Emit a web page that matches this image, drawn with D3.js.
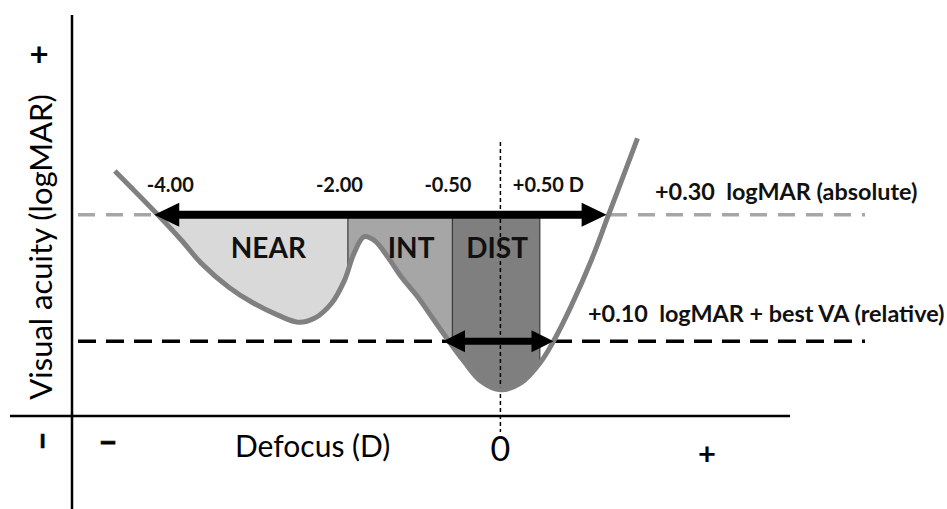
<!DOCTYPE html>
<html>
<head>
<meta charset="utf-8">
<script src="https://cdn.jsdelivr.net/npm/d3@7"></script>
<style>
	body { margin: 0; background: #fff; }
	svg { display: block; font-family: Lato, "Open Sans", sans-serif; }
</style>
</head>
<body>
<div id="chart"></div>
<script>
// defocus curve: defocus (D) vs visual acuity (logMAR)
var defocus = [-4.50, -4.01, -3.72, -3.49, -3.17, -2.90, -2.59, -2.36, -2.17, -1.97, -1.82, -1.71, -1.59, -1.47,
	-1.31, -1.16, -0.96, -0.79, -0.61, -0.42, -0.23, 0.00, 0.24, 0.47, 0.62, 0.82, 1.06, 1.25, 1.60];
var logMAR = [0.390, 0.302, 0.247, 0.200, 0.151, 0.120, 0.093, 0.079, 0.087, 0.118, 0.165, 0.220, 0.255, 0.247,
	0.212, 0.173, 0.130, 0.087, 0.042, -0.003, -0.042, -0.060, -0.046, -0.003, 0.040, 0.110, 0.206, 0.294, 0.457];

// range zones and their limits (D)
var zones = ["NEAR", "INT", "DIST"];
var zoneEdges = [-4.01, -1.78, -0.56, 0.46];
var edgeLabels = ["-4.00", "-2.00", "-0.50", "+0.50 D"];

// thresholds (logMAR) and where the arrows meet the curve (D)
var absLimit = 0.30;
var bestVA = -0.06;
var relStep = 0.10;
var absRange = [-4.04, 1.24];
var relRange = [-0.67, 0.62];
var thresholdLabels = ["+0.30  logMAR (absolute)", "+0.10  logMAR + best VA (relative)"];

var cfg = {
	w: 947,
	h: 509,
	fills: ["#d9d9d9", "#a6a6a6", "#7f7f7f"],
	curve: "#808080",
	edgeDx: [-10, -32, -28, -27],	// label nudges, as in the picture
	zoneDx: [16, 11, 1]
};

var x = d3.scaleLinear().domain([-5, 3.38]).range([72, 790]);
var y = d3.scaleLinear().domain([-0.114, 0.711]).range([416, 15]);

var svg = d3.select("#chart").append("svg")
	.attr("width", cfg.w)
	.attr("height", cfg.h);

var idx = d3.range(defocus.length);
var relLimit = bestVA + relStep;

// area between the absolute limit and the curve
var area = d3.area()
	.x(function(i) { return x(defocus[i]); })
	.y0(y(absLimit))
	.y1(function(i) { return y(logMAR[i]); })
	.curve(d3.curveCatmullRom);

var defs = svg.append("defs");
defs.append("clipPath").attr("id", "under")
	.append("path").attr("d", area(idx));

zones.forEach(function(z, i) {
	defs.append("clipPath").attr("id", "zone" + i)
		.append("rect")
		.attr("x", x(zoneEdges[i]))
		.attr("y", y(absLimit))
		.attr("width", x(zoneEdges[i + 1]) - x(zoneEdges[i]))
		.attr("height", y.range()[0] - y(absLimit));
});

var fillG = svg.append("g").attr("clip-path", "url(#under)");
zones.forEach(function(z, i) {
	fillG.append("path")
		.attr("clip-path", "url(#zone" + i + ")")
		.attr("d", area(idx))
		.attr("fill", cfg.fills[i]);
});
fillG.selectAll(".edge")
	.data(zoneEdges.slice(1))
	.enter().append("line")
	.attr("class", "edge")
	.attr("x1", function(d) { return x(d); })
	.attr("x2", function(d) { return x(d); })
	.attr("y1", y(absLimit))
	.attr("y2", y.range()[0])
	.attr("stroke", "#3a3a3a")
	.attr("stroke-width", 1.2);

// zero defocus line
svg.append("line")
	.attr("x1", x(0)).attr("x2", x(0))
	.attr("y1", 142).attr("y2", 432)
	.attr("stroke", "#000")
	.attr("stroke-width", 1.5)
	.attr("stroke-dasharray", "4,3");

// axes
svg.append("line")
	.attr("x1", x.range()[0] - 62).attr("x2", x.range()[1])
	.attr("y1", y.range()[0]).attr("y2", y.range()[0])
	.attr("stroke", "#000").attr("stroke-width", 2.5);
svg.append("line")
	.attr("x1", x.range()[0]).attr("x2", x.range()[0])
	.attr("y1", y.range()[1]).attr("y2", cfg.h)
	.attr("stroke", "#000").attr("stroke-width", 2.5);

// threshold lines
svg.append("line")
	.attr("x1", 78).attr("x2", 865)
	.attr("y1", y(absLimit)).attr("y2", y(absLimit))
	.attr("stroke", "#a6a6a6").attr("stroke-width", 3.5)
	.attr("stroke-dasharray", "17,11");
svg.append("line")
	.attr("x1", 78).attr("x2", 865)
	.attr("y1", y(relLimit)).attr("y2", y(relLimit))
	.attr("stroke", "#000").attr("stroke-width", 3.5)
	.attr("stroke-dasharray", "18,10");

// the curve
svg.append("path")
	.datum(idx)
	.attr("fill", "none")
	.attr("stroke", cfg.curve)
	.attr("stroke-width", 5)
	.attr("stroke-linecap", "butt")
	.attr("d", d3.line()
		.x(function(i) { return x(defocus[i]); })
		.y(function(i) { return y(logMAR[i]); })
		.curve(d3.curveCatmullRom));

// double headed arrows
function arrow(range, v, shaft, headLen, headHalf) {
	var x1 = x(range[0]), x2 = x(range[1]), yy = y(v);
	var g = svg.append("g");
	g.append("line")
		.attr("x1", x1 + headLen - 1).attr("x2", x2 - headLen + 1)
		.attr("y1", yy).attr("y2", yy)
		.attr("stroke", "#000").attr("stroke-width", shaft);
	g.append("path")
		.attr("d", "M" + x1 + "," + yy + "L" + (x1 + headLen) + "," + (yy - headHalf) +
			"L" + (x1 + headLen) + "," + (yy + headHalf) + "Z")
		.attr("fill", "#000");
	g.append("path")
		.attr("d", "M" + x2 + "," + yy + "L" + (x2 - headLen) + "," + (yy - headHalf) +
			"L" + (x2 - headLen) + "," + (yy + headHalf) + "Z")
		.attr("fill", "#000");
}
arrow(absRange, absLimit, 8, 25, 12);
arrow(relRange, relLimit, 7, 22, 11);

// zone names
svg.selectAll(".zone")
	.data(zones)
	.enter().append("text")
	.attr("class", "zone")
	.attr("x", function(d, i) { return x((zoneEdges[i] + zoneEdges[i + 1]) / 2) + cfg.zoneDx[i]; })
	.attr("y", 258)
	.attr("text-anchor", "middle")
	.attr("font-size", "28px")
	.attr("font-weight", "bold")
	.attr("fill", "#111")
	.text(function(d) { return d; });

// limit values
svg.selectAll(".edge-label")
	.data(edgeLabels)
	.enter().append("text")
	.attr("class", "edge-label")
	.attr("x", function(d, i) { return x(zoneEdges[i]) + cfg.edgeDx[i]; })
	.attr("y", 192)
	.attr("font-size", "20px")
	.attr("font-weight", "bold")
	.attr("fill", "#111")
	.text(function(d) { return d; });

// threshold labels
svg.append("text")
	.attr("x", 655).attr("y", y(absLimit) - 15)
	.attr("font-size", "23.4px").attr("font-weight", "bold")
	.style("white-space", "pre")
	.attr("fill", "#111")
	.text(thresholdLabels[0]);
svg.append("text")
	.attr("x", 588).attr("y", y(relLimit) - 19)
	.attr("font-size", "23.4px").attr("font-weight", "bold")
	.style("white-space", "pre")
	.attr("fill", "#111")
	.text(thresholdLabels[1]);

// axis titles and signs
svg.append("text")
	.attr("transform", "translate(52,247) rotate(-90)")
	.attr("text-anchor", "middle")
	.attr("font-size", "31px")
	.text("Visual acuity (logMAR)");
svg.append("text")
	.attr("x", 39).attr("y", 66)
	.attr("text-anchor", "middle")
	.attr("font-size", "33px").attr("font-weight", "bold")
	.text("+");
svg.append("text")
	.attr("transform", "translate(53,441) rotate(-90)")
	.attr("text-anchor", "middle")
	.attr("font-size", "31px").attr("font-weight", "bold")
	.attr("stroke", "#000").attr("stroke-width", 0.8)
	.text("\u2212");
svg.append("text")
	.attr("x", 108).attr("y", 453)
	.attr("text-anchor", "middle")
	.attr("font-size", "31px").attr("font-weight", "bold")
	.attr("stroke", "#000").attr("stroke-width", 0.8)
	.text("\u2212");
svg.append("text")
	.attr("x", 235).attr("y", 457)
	.attr("font-size", "30px")
	.text("Defocus (D)");
svg.append("text")
	.attr("x", x(0)).attr("y", 461)
	.attr("text-anchor", "middle")
	.attr("font-size", "34px")
	.text("0");
svg.append("text")
	.attr("x", 707).attr("y", 465)
	.attr("text-anchor", "middle")
	.attr("font-size", "31px").attr("font-weight", "bold")
	.text("+");
</script>
</body>
</html>
